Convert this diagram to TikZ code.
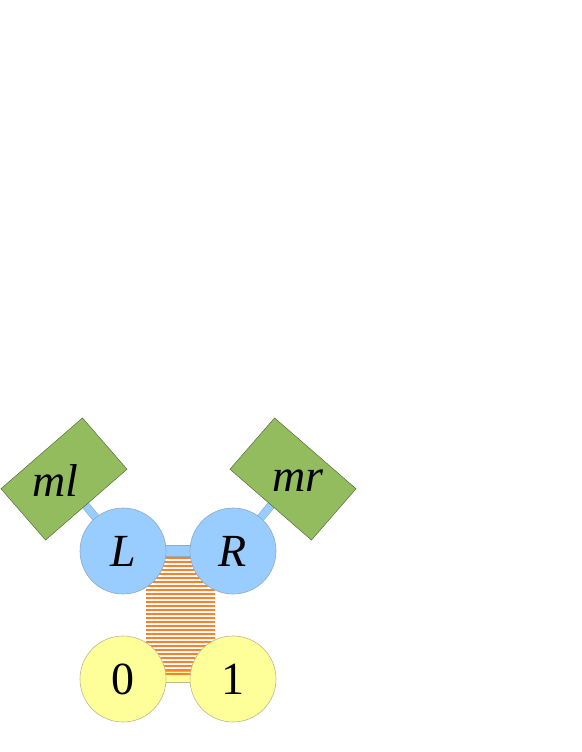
\documentclass[tikz,border=0pt]{standalone}
\usepackage{fontspec}
\setmainfont{Liberation Serif}
\usetikzlibrary{backgrounds}
\definecolor{ballblue}{HTML}{99CCFF}
\definecolor{ballyellow}{HTML}{FFFF99}
\definecolor{boxgreen}{HTML}{92BC5E}
\definecolor{stripeorange}{HTML}{FF7F2A}
\tikzset{
  ball/.style={circle, minimum size=86pt, inner sep=0pt, line width=0.6pt,
    font=\fontsize{46}{52}\selectfont},
  blueball/.style={ball, fill=ballblue, draw=ballblue!55!gray},
  yellowball/.style={ball, fill=ballyellow, draw=ballyellow!45!gray},
  mbox/.style={rectangle, minimum width=108pt, minimum height=68pt, inner sep=0pt,
    fill=boxgreen, draw=boxgreen!50!black, line width=0.4pt},
  mlabel/.style={font=\fontsize{46}{52}\selectfont\itshape},
  link/.style={draw=ballblue!55!gray, line width=0.6pt, double=ballblue, double distance=7pt},
  bar/.style={line width=0.6pt, double distance=10pt},
  stripe/.style={stripeorange, line width=2pt}
}
\begin{document}
\begin{tikzpicture}[x=1pt,y=-1pt]
		\useasboundingbox (0,0) rectangle (581,752);
		\node (ml) at (64,479) [mbox, rotate=41] {};
		\node (mr) at (293,479) [mbox, rotate=-41] {};
		\node (mltext) at (55,481) [mlabel] {ml};
		\node (mrtext) at (298,481) [mlabel] {mr};
		\node (L) at (123,551) [blueball] {\itshape L};
		\node (R) at (233,551) [blueball] {\itshape R};
		\node (n0) at (123,679) [yellowball] {0};
		\node (n1) at (233,679) [yellowball] {1};
		\begin{pgfonlayer}{background}
			\draw [link] (ml.center)--(L.center) (mr.center)--(R.center);
			\draw [bar, draw=ballblue!55!gray, double=ballblue] (L.center)--(R.center);
			\draw [bar, draw=ballyellow!45!gray, double=ballyellow] ([yshift=2pt]n0.center)--([yshift=2pt]n1.center);
			\foreach \y in {557.5,561.5,...,676} \draw [stripe] (146,\y)--(215,\y);
		\end{pgfonlayer}
\end{tikzpicture}
\end{document}
